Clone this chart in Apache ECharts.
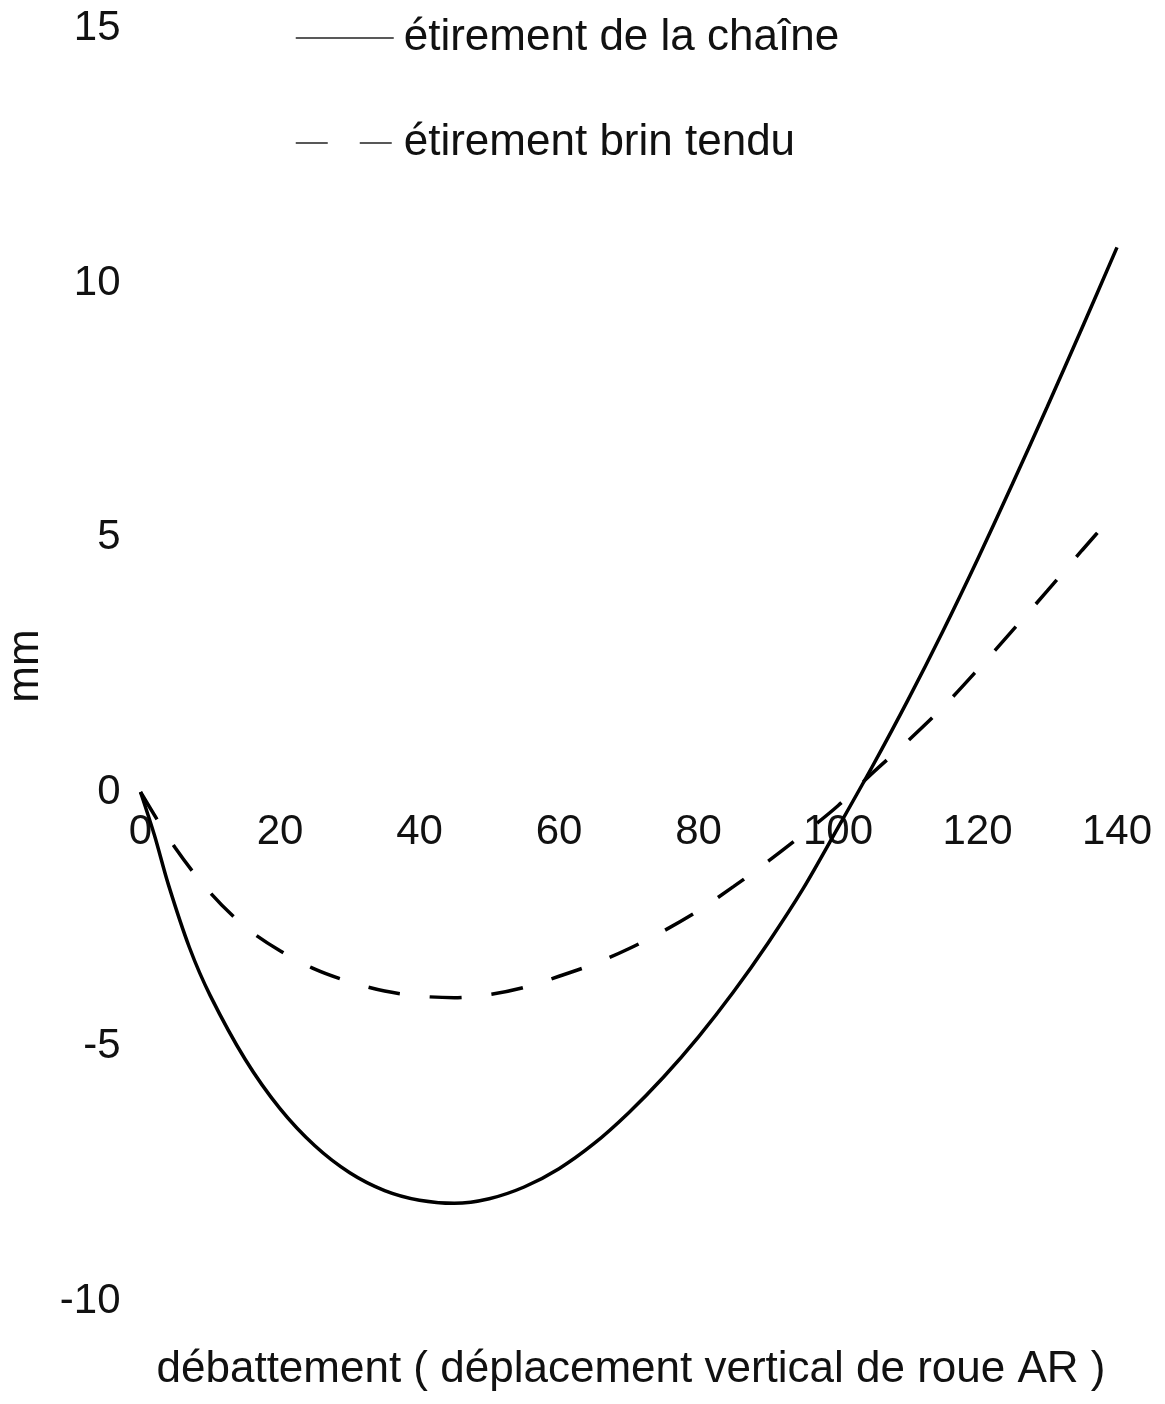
<!DOCTYPE html>
<html>
<head>
<meta charset="utf-8">
<script src="https://cdn.jsdelivr.net/npm/echarts@6/dist/echarts.min.js"></script>
<style>
html,body{margin:0;padding:0;background:#fff;}
#chart{width:1165px;height:1404px;}
</style>
</head>
<body>
<div id="chart"></div>
<script>
// ---- data ----
const seriesNames = ['étirement de la chaîne', 'étirement brin tendu'];
const xTicks = [0, 20, 40, 60, 80, 100, 120, 140];
const yTicks = [-10, -5, 0, 5, 10, 15];
const xTitle = 'débattement ( déplacement vertical de roue AR )';
const yTitle = 'mm';

const xSolid = [0, 2, 4, 7, 10, 15, 20, 25, 30, 35, 40, 45, 50, 55, 60, 65, 70, 75, 80, 85, 90, 95, 100, 105, 110, 115, 120, 125, 130, 135, 140];
const ySolid = [0, -0.85, -1.82, -3.05, -4.0, -5.25, -6.22, -6.95, -7.48, -7.83, -8.02, -8.08, -7.99, -7.76, -7.4, -6.91, -6.3, -5.6, -4.81, -3.93, -2.96, -1.9, -0.7, 0.52, 1.8, 3.15, 4.57, 6.05, 7.57, 9.12, 10.7];

const xDash = [0, 5, 10, 15, 20, 25, 30, 35, 40, 45, 50, 55, 60, 65, 70, 75, 80, 85, 90, 95, 100, 105, 110, 115, 120, 125, 130, 135, 139.5];
const yDash = [0, -1.1, -1.98, -2.65, -3.12, -3.48, -3.73, -3.91, -4.01, -4.04, -3.98, -3.84, -3.62, -3.38, -3.08, -2.73, -2.33, -1.86, -1.36, -0.83, -0.27, 0.38, 1.0, 1.66, 2.4, 3.17, 3.95, 4.75, 5.45];

// ---- chart ----
const FONT = '"Liberation Sans", Arial, sans-serif';
const GRID_TOP = 28.5, GRID_BOTTOM = 103, H = 1404;
const yMin = yTicks[0], yMax = yTicks[yTicks.length - 1];
// place the x axis on the y = 0 line
const zeroOffset = -((0 - yMin) / (yMax - yMin)) * (H - GRID_TOP - GRID_BOTTOM);

const chart = echarts.init(document.getElementById('chart'), null, {renderer: 'canvas'});
const option = {
  backgroundColor: '#ffffff',
  animation: false,
  textStyle: {fontFamily: FONT, color: '#111'},
  grid: {left: 140.5, right: 48, top: GRID_TOP, bottom: GRID_BOTTOM, containLabel: false},
  legend: {
    orient: 'vertical',
    left: 295,
    top: 13,
    padding: 0,
    itemWidth: 98,
    itemHeight: 2,
    itemGap: 55,
    textStyle: {fontFamily: FONT, fontSize: 44, color: '#111', lineHeight: 50, padding: [0, 0, 0, 5]},
    itemStyle: {opacity: 0},
    lineStyle: {width: 1.5, color: '#222'},
    data: [
      {name: seriesNames[0], itemStyle: {opacity: 0}, lineStyle: {type: 'solid', width: 1.5, color: '#222'}},
      {name: seriesNames[1], itemStyle: {opacity: 0}, lineStyle: {type: [32, 32], width: 1.5, color: '#222'}}
    ]
  },
  xAxis: {
    type: 'value',
    min: xTicks[0],
    max: xTicks[xTicks.length - 1],
    interval: 20,
    offset: zeroOffset,
    axisLine: {show: false, onZero: false},
    axisTick: {show: false},
    splitLine: {show: false},
    axisLabel: {fontFamily: FONT, fontSize: 42, color: '#111', margin: 19}
  },
  yAxis: {
    type: 'value',
    min: yMin,
    max: yMax,
    interval: 5,
    axisLine: {show: false},
    axisTick: {show: false},
    splitLine: {show: false},
    axisLabel: {fontFamily: FONT, fontSize: 42, color: '#111', margin: 20}
  },
  graphic: [
    {type: 'text', x: 631, y: 1370, style: {text: xTitle, fontFamily: FONT, fontSize: 44, fill: '#111', textAlign: 'center', textVerticalAlign: 'middle'}},
    {type: 'text', x: 26, y: 666, rotation: Math.PI / 2, style: {text: yTitle, fontFamily: FONT, fontSize: 44, fill: '#111', textAlign: 'center', textVerticalAlign: 'middle'}}
  ],
  series: [
    {
      name: seriesNames[0],
      type: 'line',
      data: xSolid.map((x, i) => [x, ySolid[i]]),
      showSymbol: false,
      symbol: 'none',
      smooth: 0.3,
      lineStyle: {color: '#000', width: 3.5, type: 'solid'},
      itemStyle: {color: '#000'}
    },
    {
      name: seriesNames[1],
      type: 'line',
      data: xDash.map((x, i) => [x, yDash[i]]),
      showSymbol: false,
      symbol: 'none',
      smooth: 0.3,
      lineStyle: {color: '#000', width: 3.5, type: [32, 30]},
      itemStyle: {color: '#000'}
    }
  ]
};
chart.setOption(option);
</script>
</body>
</html>
